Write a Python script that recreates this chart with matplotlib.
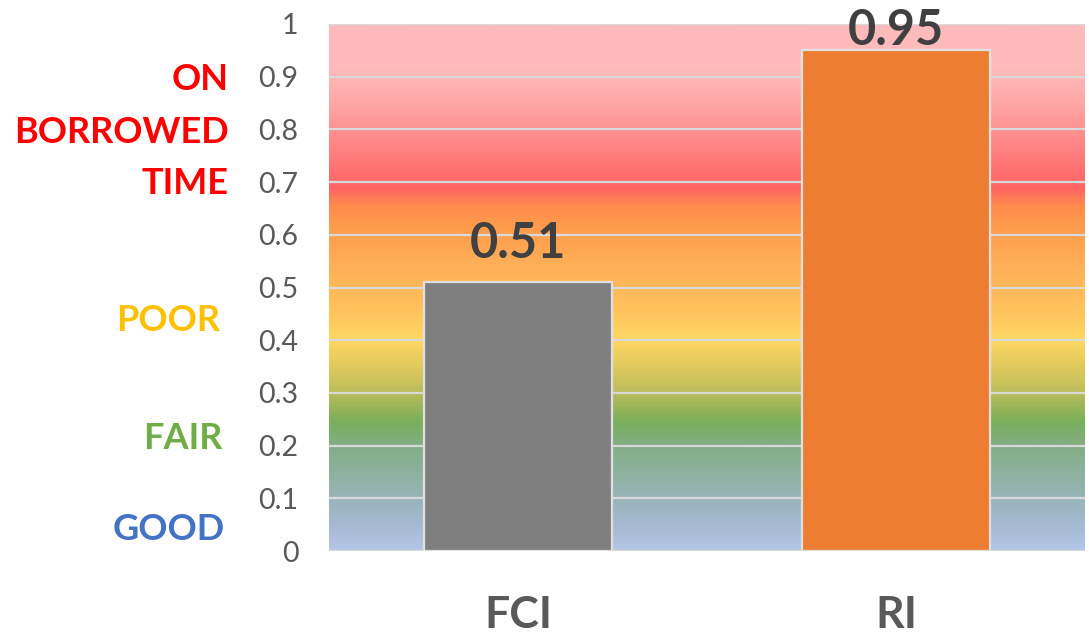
import numpy as np
import matplotlib
matplotlib.use("Agg")
import matplotlib.pyplot as plt
from matplotlib.colors import LinearSegmentedColormap

# Data
categories = ["FCI", "RI"]
values = [0.51, 0.95]
bar_colors = ["#7F7F7F", "#ED7D31"]
y_ticks = [0, 0.1, 0.2, 0.3, 0.4, 0.5, 0.6, 0.7, 0.8, 0.9, 1.0]

# Condition bands written beside the axis: (text, y position, colour)
band_labels = [
    ("ON", 0.895, "#FF0000"),
    ("BORROWED", 0.795, "#FF0000"),
    ("TIME", 0.697, "#FF0000"),
    ("POOR", 0.438, "#FFC000"),
    ("FAIR", 0.214, "#70AD47"),
    ("GOOD", 0.04, "#4472C4"),
]
band_label_right = [229, 229, 229, 220, 223, 225]

# Background colour ramp (value, colour)
ramp = [
    (0.00, "#B4C6E7"),
    (0.05, "#A5B9D1"),
    (0.10, "#98B4B8"),
    (0.15, "#8DB19E"),
    (0.20, "#82AE84"),
    (0.245, "#79AF5B"),
    (0.28, "#A3B759"),
    (0.32, "#CCC25C"),
    (0.36, "#E6CC5F"),
    (0.40, "#FFD862"),
    (0.46, "#FFC25D"),
    (0.55, "#FFAD57"),
    (0.62, "#FF9A4C"),
    (0.655, "#FF8C4C"),
    (0.69, "#FF6464"),
    (0.75, "#FF7C7C"),
    (0.80, "#FF9191"),
    (0.86, "#FFAAAA"),
    (0.92, "#FFBBBB"),
    (1.00, "#FFBCBC"),
]

W, H, DPI = 1089, 639, 100
fig = plt.figure(figsize=(W / DPI, H / DPI), dpi=DPI)
ax = fig.add_axes([329 / W, 1 - 551 / H, (1085 - 329) / W, (551 - 24) / H])

cmap = LinearSegmentedColormap.from_list("band", [(v, c) for v, c in ramp])
grad = np.linspace(0, 1, 512).reshape(-1, 1)
ax.imshow(grad, cmap=cmap, aspect="auto", origin="lower",
          extent=(-0.5, 1.5, 0, 1), zorder=0, interpolation="bilinear")

ax.set_xlim(-0.5, 1.5)
ax.set_ylim(0, 1)

# Grid
for t in y_ticks[1:]:
    ax.axhline(t, color="#D9D9D9", lw=1.6, zorder=1)
ax.axhline(0, color="#D9D9D9", lw=1.6, zorder=1)

x = np.arange(len(categories))
ax.bar(x, values, width=0.495, color=bar_colors, edgecolor="#E0E0E0",
       linewidth=1.6, zorder=3)

font = "Lato"
for xi, v in zip(x, values):
    ax.text(xi, min(v + 0.046, 0.96), f"{v:.2f}", ha="center", va="baseline",
            fontsize=35, fontweight="bold", color="#404040", family=font,
            zorder=4)

for s in ax.spines.values():
    s.set_visible(False)

ax.set_yticks(y_ticks)
ax.set_yticklabels([f"{t:g}" for t in y_ticks], fontsize=20.5,
                   color="#595959", family=font)
ax.tick_params(axis="y", length=0, pad=22)
ax.set_xticks(x)
ax.set_xticklabels(categories, fontsize=32, fontweight="bold",
                   color="#595959", family=font)
ax.tick_params(axis="x", length=0, pad=32)

for (txt, yv, col), xr in zip(band_labels, band_label_right):
    ypix = 551 - yv * 527
    fig.text(xr / W, 1 - ypix / H, txt, ha="right", va="center",
             fontsize=26, fontweight="bold", color=col, family=font)

fig.savefig("out.png", dpi=DPI)
